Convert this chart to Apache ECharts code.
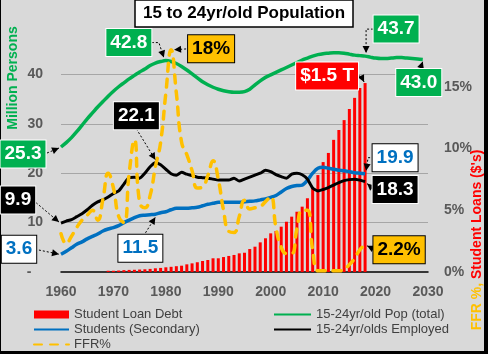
<!DOCTYPE html>
<html>
<head>
<meta charset="utf-8">
<script src="https://cdn.jsdelivr.net/npm/echarts@6/dist/echarts.min.js"></script>
<style>
  html, body { margin: 0; padding: 0; background: #d9d9d9; }
  #show_picture { width: 488px; height: 354px; }
</style>
</head>
<body>
<div id="show_picture"></div>
<script>
// years on the x axis
const years = [
  1960, 1961, 1962, 1963, 1964, 1965, 1966, 1967, 1968, 1969,
  1970, 1971, 1972, 1973, 1974, 1975, 1976, 1977, 1978, 1979,
  1980, 1981, 1982, 1983, 1984, 1985, 1986, 1987, 1988, 1989,
  1990, 1991, 1992, 1993, 1994, 1995, 1996, 1997, 1998, 1999,
  2000, 2001, 2002, 2003, 2004, 2005, 2006, 2007, 2008, 2009,
  2010, 2011, 2012, 2013, 2014, 2015, 2016, 2017, 2018, 2019,
  2020, 2021, 2022, 2023, 2024, 2025, 2026, 2027, 2028, 2029
];

// 15-24yr/old population (millions)
const popTotal = [
  25.3, 26.2, 27.2, 28.4, 29.7, 31.0, 32.2, 33.4, 34.5, 35.6,
  36.6, 37.5, 38.3, 39.1, 39.8, 40.5, 41.1, 41.8, 42.3, 42.6,
  42.8, 42.6, 42.2, 41.6, 40.9, 40.1, 39.3, 38.5, 37.9, 37.4,
  37.0, 36.7, 36.5, 36.4, 36.4, 36.5, 37.0, 37.9, 38.7, 39.4,
  39.9, 40.4, 40.9, 41.4, 41.9, 42.4, 42.9, 43.3, 43.7, 44.0,
  44.2, 44.3, 44.4, 44.4, 44.3, 44.1, 43.9, 43.8, 43.7, 43.5,
  43.3, 43.2, 43.2, 43.3, 43.4, 43.4, 43.3, 43.2, 43.1, 43.0
];

// students (secondary), millions
const students = [
  3.6, 4.2, 4.9, 5.6, 6.1, 6.7, 7.2, 7.7, 8.3, 8.7,
  9.0, 9.4, 10.0, 10.5, 11.0, 11.4, 11.5, 11.6, 11.7, 12.0,
  12.2, 12.6, 12.9, 12.9, 12.9, 13.0, 13.1, 13.4, 13.7, 13.9,
  14.1, 14.1, 14.1, 14.1, 14.1, 14.2, 14.3, 14.4, 14.6, 14.8,
  15.1, 15.5, 16.2, 16.9, 17.3, 17.5, 17.6, 18.6, 20.0, 21.0,
  21.2, 21.0, 20.8, 20.6, 20.5, 20.3, 20.1, 20.0, 19.9
];

// 15-24yr/olds employed, millions
const employed = [
  9.9, 10.3, 10.6, 11.2, 11.8, 12.6, 13.5, 14.2, 14.6, 15.2,
  15.9, 16.4, 17.8, 19.1, 19.2, 19.0, 20.0, 21.3, 22.1, 21.7,
  20.8, 19.9, 19.6, 20.2, 19.8, 19.5, 19.2, 19.1, 19.0, 18.8,
  18.6, 18.6, 18.6, 19.0, 18.4, 18.8, 19.2, 19.6, 20.0, 20.6,
  20.3, 19.7, 19.3, 19.0, 19.8, 20.0, 19.7, 18.8, 17.0, 16.4,
  16.7, 17.1, 17.6, 18.1, 18.5, 18.7, 18.8, 18.6, 18.3
];

// fed funds rate, %
const ffr = [
  3.1, 2.3, 2.9, 3.6, 4.2, 4.6, 5.0, 4.2, 5.9, 8.0,
  6.8, 4.5, 4.0, 8.0, 10.7, 5.6, 5.2, 6.2, 8.5, 10.5,
  14.5, 18.0, 14.5, 10.5, 9.5, 8.2, 6.8, 6.9, 7.8, 9.0,
  7.5, 5.0, 3.3, 3.2, 4.5, 5.8, 5.1, 5.2, 5.3, 5.7,
  6.1, 3.6, 2.0, 1.5, 1.5, 3.5, 5.0, 5.0, 1.8, 0.1,
  0.1, 0.1, 0.1, 0.1, 0.2, 0.6, 1.1, 1.8, 2.2
];

// student loan debt, $100B (right axis)
const loans = [
  null, null, null, null, null, null, null, null, null, 0.1,
  0.1, 0.12, 0.15, 0.17, 0.18, 0.2, 0.22, 0.25, 0.3, 0.33,
  0.38, 0.42, 0.47, 0.51, 0.62, 0.70, 0.79, 0.89, 0.97, 1.11,
  1.11, 1.21, 1.30, 1.38, 1.51, 1.56, 1.86, 2.05, 2.40, 2.73,
  3.13, 3.32, 3.67, 4.07, 4.48, 4.88, 5.29, 5.97, 6.8, 7.85,
  8.9, 9.64, 10.7, 11.5, 12.3, 13.2, 14.1, 14.9, 15.3
];

const names = ['Student Loan Debt', '15-24yr/old Pop (total)', 'Students (Secondary)',
  '15-24yr/olds Employed', 'FFR%'];

// callouts: [text, series, year, box dx, box dy, arrow path offsets, style]
const callouts = [
  ['42.8', 'pop', 1980, -37, -18, [[-14, -18], [-7, -18], [-2, -3]], 'green'],
  ['18%', 'ffr', 1981, 40, -1, [[19, -1], [3, 0]], 'orange'],
  ['22.1', 'emp', 1978, -19, -47, [[-19, -34], [0, -3]], 'black'],
  ['25.3', 'pop', 1960, -38, 7, [[-14, 6], [-2, 1]], 'green'],
  ['9.9', 'emp', 1960, -43, -23, [[-28, -23], [-2, -1]], 'black'],
  ['3.6', 'stu', 1960, -42, -5, [[-26, -5], [-2, 0]], 'white'],
  ['11.5', 'stu', 1978, -15, 34, [[-12, 22], [0, 3]], 'white'],
  ['43.7', 'pop', 2018, 31, -27, [[8, -27], [1, -27], [1, -3]], 'green'],
  ['43.0', 'pop', 2029, -4, 23, [[-2, 8], [0, 2]], 'green'],
  ['$1.5 T', 'loan', 2018, -38, -7, [[-11, -7], [-4, -7], [-1, -1]], 'red'],
  ['19.9', 'stu', 2018, 30, -16, [[9, -16], [3, -16], [1, -3]], 'white'],
  ['18.3', 'emp', 2018, 30, 8, [[9, 8], [2, 2]], 'black'],
  ['2.2%', 'ffr', 2018, 34, 5, [[10, 5], [2, 1]], 'orange']
];

const boxStyles = {
  green: { fill: '#00b050', text: '#fff', border: '#fff' },
  black: { fill: '#000', text: '#fff', border: '#fff' },
  white: { fill: '#fff', text: '#0070c0', border: '#000' },
  orange: { fill: '#ffc000', text: '#000', border: '#000' },
  red: { fill: '#ff0000', text: '#fff', border: '#fff' }
};

const font = 'Liberation Sans, Arial, sans-serif';

function pairs(arr) {
  let out = [];
  for (let i = 0; i < arr.length; i++) {
    if (arr[i] != null) out.push([years[i], arr[i]]);
  }
  return out;
}

// legend entry for a line series: hide the marker, keep the line
function lineItem(n) {
  return { name: n, itemStyle: { opacity: 0 } };
}

let myChart = echarts.init(document.getElementById('show_picture'));

let legendText = { fontSize: 13, color: '#404040', lineHeight: 13, fontFamily: font };

let option = {
  animation: false,
  backgroundColor: '#d9d9d9',
  textStyle: { fontFamily: font },
  title: {
    text: '15 to 24yr/old Population',
    left: 'center',
    top: 0,
    padding: [5, 8],
    backgroundColor: '#fff',
    borderColor: '#000',
    borderWidth: 1.5,
    textStyle: { fontSize: 17, fontWeight: 'bold', color: '#000', fontFamily: font }
  },
  grid: { left: 61, right: 60, top: 25, bottom: 82 },
  legend: [
    {
      orient: 'vertical', left: 33, top: 308, height: 60, padding: 0,
      itemWidth: 35, itemHeight: 8, itemGap: 2,
      data: [{ name: names[0], icon: 'rect' }, lineItem(names[2]), lineItem(names[4])],
      textStyle: legendText
    },
    {
      orient: 'vertical', left: 273, top: 308, height: 60, padding: 0,
      itemWidth: 37, itemHeight: 8, itemGap: 2,
      data: [lineItem(names[1]), lineItem(names[3])],
      textStyle: legendText
    }
  ],
  xAxis: {
    type: 'value', min: 1960, max: 2030, interval: 10,
    axisLine: { show: true, lineStyle: { color: '#000', width: 1.5 } },
    axisTick: { show: false },
    splitLine: { show: false },
    axisLabel: {
      fontSize: 14, fontWeight: 'bold', color: '#595959', margin: 13,
      formatter: v => String(v)
    }
  },
  yAxis: [
    {
      type: 'value', min: 0, max: 50, interval: 10,
      axisLine: { show: false }, axisTick: { show: false },
      splitLine: { show: true, showMinLine: false, showMaxLine: false, lineStyle: { color: '#a6a6a6' } },
      axisLabel: {
        fontSize: 14, fontWeight: 'bold', color: '#595959', margin: 18, showMaxLabel: false,
        formatter: v => (v === 0 ? '-   ' : v)
      }
    },
    {
      type: 'value', min: 0, max: 20, interval: 5,
      axisLine: { show: false }, axisTick: { show: false }, splitLine: { show: false },
      axisLabel: {
        fontSize: 14, fontWeight: 'bold', color: '#595959', margin: 16, showMaxLabel: false,
        formatter: '{value}%'
      }
    }
  ],
  series: [
    {
      name: names[0], type: 'bar', yAxisIndex: 1, data: pairs(loans),
      barWidth: 3, itemStyle: { color: '#ff0000' }
    },
    {
      name: names[1], type: 'line', yAxisIndex: 0, data: pairs(popTotal),
      symbol: 'none', smooth: 0.3,
      lineStyle: { color: '#00b050', width: 3.5 }, itemStyle: { color: '#00b050' }
    },
    {
      name: names[2], type: 'line', yAxisIndex: 0, data: pairs(students),
      symbol: 'none', smooth: 0.3,
      lineStyle: { color: '#0070c0', width: 3.5 }, itemStyle: { color: '#0070c0' }
    },
    {
      name: names[3], type: 'line', yAxisIndex: 0, data: pairs(employed),
      symbol: 'none', smooth: 0.2,
      lineStyle: { color: '#000', width: 3 }, itemStyle: { color: '#000' }
    },
    {
      name: names[4], type: 'line', yAxisIndex: 1, data: pairs(ffr),
      symbol: 'none', smooth: 0.5,
      lineStyle: { color: '#ffc000', width: 3.5, type: [8, 8], cap: 'round' },
      itemStyle: { color: '#ffc000' }
    }
  ]
};

myChart.setOption(option);

// callouts, axis names and frame drawn on top of the chart
const lookup = {
  pop: [popTotal, 0], stu: [students, 0], emp: [employed, 0], ffr: [ffr, 1], loan: [loans, 1]
};
let graphics = [];

for (let c of callouts) {
  let [text, key, year, dx, dy, path, sty] = c;
  let [arr, axis] = lookup[key];
  let v = arr[years.indexOf(year)];
  let p = myChart.convertToPixel({ xAxisIndex: 0, yAxisIndex: axis }, [year, v]);
  let s = boxStyles[sty];
  let pts = path.map(o => [p[0] + o[0], p[1] + o[1]]);
  graphics.push({
    type: 'polyline', z: 100, silent: true,
    shape: { points: pts },
    style: { stroke: '#000', lineWidth: 1, lineDash: [2, 2], fill: null }
  });
  let a = pts[pts.length - 1], b = pts[pts.length - 2];
  let ang = Math.atan2(a[1] - b[1], a[0] - b[0]);
  let L = 7, W = 3.5;
  let bx = a[0] - L * Math.cos(ang), by = a[1] - L * Math.sin(ang);
  graphics.push({
    type: 'polygon', z: 101, silent: true,
    shape: { points: [a, [bx + W * Math.sin(ang), by - W * Math.cos(ang)], [bx - W * Math.sin(ang), by + W * Math.cos(ang)]] },
    style: { fill: '#000' }
  });
  graphics.push({
    type: 'text', z: 102, silent: true,
    x: p[0] + dx, y: p[1] + dy,
    style: {
      text: text, fill: s.text, font: 'bold 19px ' + font,
      align: 'center', verticalAlign: 'middle',
      backgroundColor: s.fill, borderColor: s.border, borderWidth: 1, padding: [4, 4]
    }
  });
}

graphics.push({
  type: 'text', x: 13, y: 78, rotation: Math.PI / 2,
  style: {
    text: 'Million Persons', fill: '#00b050', font: 'bold 14px ' + font,
    align: 'center', verticalAlign: 'middle'
  }
});
graphics.push({
  type: 'text', x: 477, y: 240, rotation: Math.PI / 2,
  style: {
    text: '{o|FFR %,} {r|Student Loans ($\'s)}',
    font: 'bold 14px ' + font, align: 'center', verticalAlign: 'middle',
    rich: {
      o: { fill: '#ffc000', font: 'bold 14px ' + font },
      r: { fill: '#ff0000', font: 'bold 14px ' + font }
    }
  }
});
// chart frame
graphics.push({ type: 'rect', shape: { x: 0, y: 0, width: 1, height: 354 }, style: { fill: '#000' } });
graphics.push({ type: 'rect', shape: { x: 484, y: 0, width: 4, height: 354 }, style: { fill: '#000' } });
graphics.push({ type: 'rect', shape: { x: 0, y: 351, width: 488, height: 3 }, style: { fill: '#000' } });

myChart.setOption({ graphic: graphics });
</script>
</body>
</html>
